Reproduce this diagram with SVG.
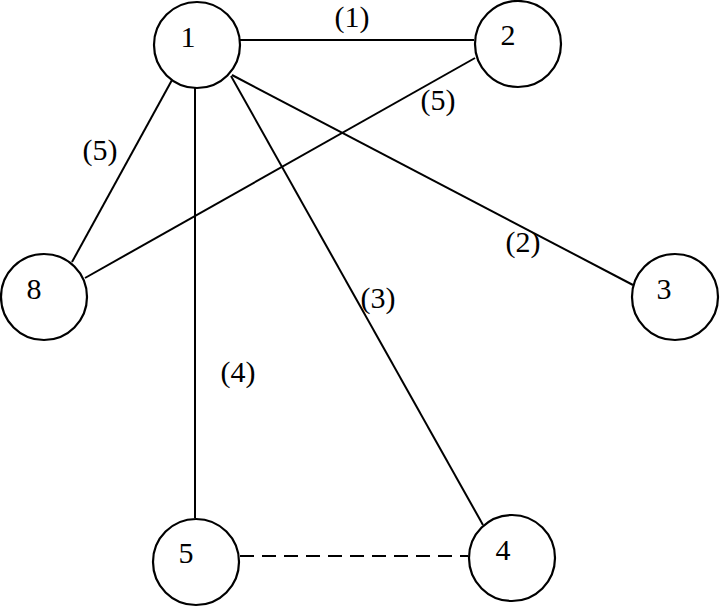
<svg xmlns="http://www.w3.org/2000/svg" width="720" height="607" viewBox="0 0 720 607">
<style>
.n{fill:#fff;stroke:#000;stroke-width:2.2}
.t{font-family:"Liberation Serif","Times New Roman",serif;font-size:30px;fill:#000;text-anchor:middle}
.e{stroke:#000;stroke-width:2;fill:none}
.d{stroke-dasharray:14 8}
</style>
<rect width="720" height="607" fill="#fff"/>
<g id="connectors">
<line class="e" x1="240" y1="40" x2="474" y2="40"/>
<line class="e" x1="475" y1="58" x2="85" y2="278"/>
<line class="e" x1="172" y1="80" x2="72" y2="262"/>
<line class="e" x1="195" y1="88" x2="195" y2="518"/>
<line class="e" x1="231" y1="76" x2="483" y2="525"/>
<line class="e" x1="232" y1="75" x2="633" y2="285"/>
<line class="e d" x1="240" y1="556" x2="468" y2="556"/>
<text class="t" x="352" y="27">(1)</text>
<text class="t" x="438" y="110">(5)</text>
<text class="t" x="100" y="160">(5)</text>
<text class="t" x="523" y="252">(2)</text>
<text class="t" x="378" y="308">(3)</text>
<text class="t" x="238" y="382">(4)</text>
</g>
<g id="node1"><circle class="n" cx="197" cy="45" r="43"/><text class="t" x="188" y="47">1</text></g>
<g id="node2"><circle class="n" cx="518" cy="44" r="43"/><text class="t" x="508" y="45">2</text></g>
<g id="node3"><circle class="n" cx="675" cy="297" r="43"/><text class="t" x="664" y="299">3</text></g>
<g id="node8"><circle class="n" cx="44" cy="297" r="43"/><text class="t" x="34" y="299">8</text></g>
<g id="node5"><circle class="n" cx="196" cy="562" r="43"/><text class="t" x="186" y="563">5</text></g>
<g id="node4"><circle class="n" cx="512" cy="558" r="43"/><text class="t" x="503" y="560">4</text></g>
</svg>
